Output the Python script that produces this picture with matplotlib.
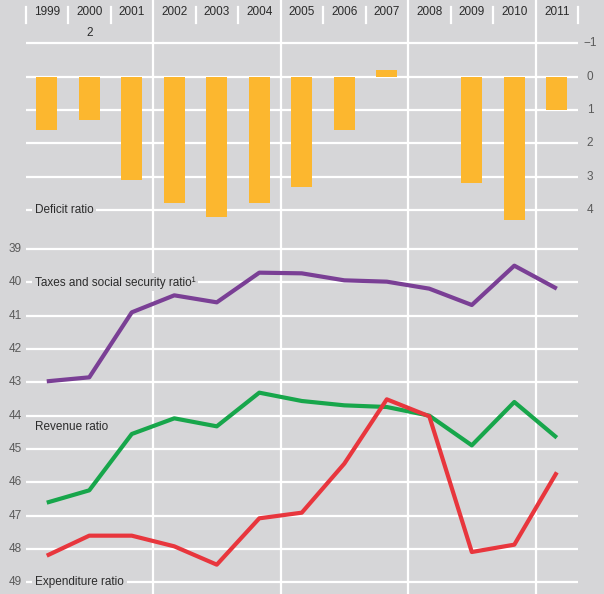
import matplotlib
matplotlib.use("Agg")
import matplotlib.pyplot as plt
import matplotlib.transforms as mtransforms

plt.rcParams['font.family'] = ['Liberation Sans', 'DejaVu Sans']

# data (chart is drawn with inverted value axes, as in the reference)
years = [1999, 2000, 2001, 2002, 2003, 2004, 2005, 2006, 2007, 2008, 2009, 2010, 2011]
deficit = [1.6, 1.3, 3.1, 3.8, 4.2, 3.8, 3.3, 1.6, -0.2, 0.0, 3.2, 4.3, 1.0]
taxes = [42.97, 42.85, 40.9, 40.39, 40.6, 39.71, 39.73, 39.94, 39.98, 40.19, 40.68, 39.5, 40.19]
revenue = [46.61, 46.24, 44.55, 44.08, 44.32, 43.31, 43.56, 43.69, 43.74, 44.0, 44.89, 43.59, 44.66]
expenditure = [48.2, 47.6, 47.6, 47.92, 48.47, 47.08, 46.91, 45.44, 43.51, 44.02, 48.09, 47.87, 45.7]
deficit_ticks = [-1, 0, 1, 2, 3, 4]
ratio_ticks = list(range(39, 50))

bg = '#d6d6d8'
orange = '#fcb72f'
purple = '#7a3f95'
green = '#17a64b'
red = '#e8363d'
label_col = '#2b2b2b'
tick_col = '#5a5a5a'
fs = 8.5

W, H = 604, 594
split = 226  # pixel row where the two panels meet
fig = plt.figure(figsize=(W / 100, H / 100), dpi=100, facecolor=bg)

ax1 = fig.add_axes([0, (H - split) / H, 1, split / H])
ax2 = fig.add_axes([0, 0, 1, (H - split) / H])
xlim = (1997.90, 2012.11)
for ax in (ax1, ax2):
    ax.set_facecolor(bg)
    ax.set_xlim(*xlim)
    ax.axis('off')
ax1.set_ylim(4.48, -2.30)
ax2.set_ylim(49.35, 38.31)

x0, x1 = years[0] - 0.5, years[-1] + 0.5
grid_kw = dict(color='white', lw=1.6, zorder=1)

# vertical separators: long ones every three years, short ones at the top
long_sep = [2001.5, 2004.5, 2007.5, 2010.5]
for ax in (ax1, ax2):
    for xv in long_sep:
        ax.axvline(xv, **grid_kw)
for xv in [y - 0.5 for y in years] + [x1]:
    if xv not in long_sep:
        ax1.plot([xv, xv], [-2.09, -1.61], **grid_kw)

# horizontal grid
ax1.hlines(deficit_ticks, x0, x1, **grid_kw)
ax2.hlines(ratio_ticks, x0, x1, **grid_kw)

# year labels
for y in years:
    ax1.text(y, -1.93, str(y), ha='center', va='center', fontsize=fs, color=label_col)
ax1.text(2000, -1.31, '2', ha='center', va='center', fontsize=fs, color=label_col)

# axis value labels
tr1 = mtransforms.blended_transform_factory(ax1.transAxes, ax1.transData)
tr2 = mtransforms.blended_transform_factory(ax2.transAxes, ax2.transData)
for t in deficit_ticks:
    ax1.text(590 / W, t, str(t).replace('-', '\u2212'), transform=tr1,
             ha='center', va='center', fontsize=fs, color=tick_col)
for t in ratio_ticks:
    ax2.text(15 / W, t, str(t), transform=tr2, ha='center', va='center',
             fontsize=fs, color=tick_col)

# deficit bars
ax1.bar(years, deficit, width=0.5, color=orange, zorder=2)

# ratio lines
for vals, col in [(taxes, purple), (revenue, green), (expenditure, red)]:
    ax2.plot(years, vals, color=col, lw=3, solid_capstyle='butt', zorder=3)

# series labels
box = dict(facecolor=bg, edgecolor='none', pad=2)
lx = 1998.72
ax1.text(lx, 4, 'Deficit ratio', ha='left', va='center', fontsize=fs,
         color=label_col, bbox=box, zorder=4)
ax2.text(lx, 40, 'Taxes and social security ratio\u00b9', ha='left', va='center',
         fontsize=fs, color=label_col, bbox=box, zorder=4)
ax2.text(lx, 44.35, 'Revenue ratio', ha='left', va='center', fontsize=fs,
         color=label_col, zorder=4)
ax2.text(lx, 49, 'Expenditure ratio', ha='left', va='center', fontsize=fs,
         color=label_col, bbox=box, zorder=4)

fig.savefig('out.png', dpi=100, facecolor=bg)
